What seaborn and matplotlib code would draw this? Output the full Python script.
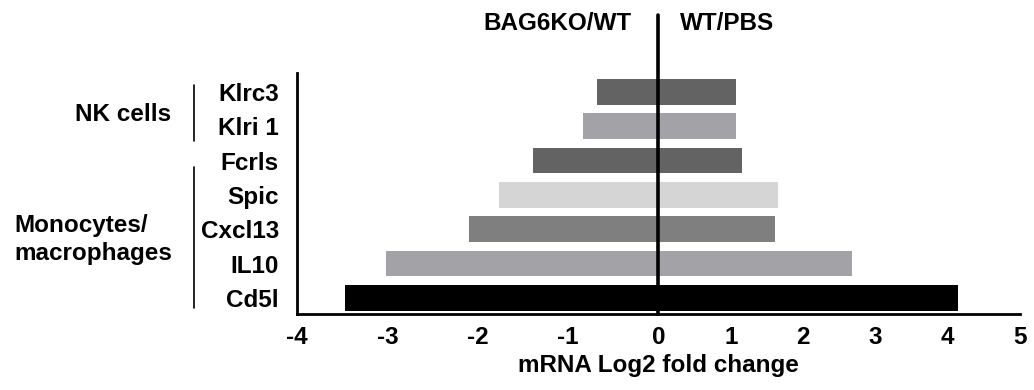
import numpy as np
import pandas as pd
import matplotlib
matplotlib.use("Agg")
import matplotlib.pyplot as plt
import matplotlib.transforms as mtransforms
import seaborn as sns

genes = ["Klrc3", "Klri 1", "Fcrls", "Spic", "Cxcl13", "IL10", "Cd5l"]
bag6ko_wt = [-0.68, -0.83, -1.39, -1.76, -2.10, -3.02, -3.47]
wt_pbs = [1.08, 1.08, 1.15, 1.65, 1.61, 2.68, 4.14]
bar_colors = ["#636363", "#a3a3a7", "#636363", "#d5d5d5", "#7f7f7f", "#a3a3a7", "#000000"]
x_ticks = [-4, -3, -2, -1, 0, 1, 2, 3, 4, 5]
group_names = ["NK cells", "Monocytes/\nmacrophages"]
group_members = [["Klrc3", "Klri 1"], ["Fcrls", "Spic", "Cxcl13", "IL10", "Cd5l"]]
headers = ["BAG6KO/WT", "WT/PBS"]
xlabel = "mRNA Log2 fold change"

sns.set_theme(style="white")
plt.rcParams["font.family"] = ["Liberation Sans", "DejaVu Sans"]
plt.rcParams["font.weight"] = "bold"
plt.rcParams["text.color"] = "black"
plt.rcParams["axes.labelcolor"] = "black"
plt.rcParams["xtick.color"] = "black"
plt.rcParams["ytick.color"] = "black"

FS = 17.5

fig = plt.figure(figsize=(10.34, 3.90), dpi=100)
ax = fig.add_axes([297 / 1034, 76 / 390, 723 / 1034, 241 / 390])

df = pd.DataFrame({"gene": genes, "left": bag6ko_wt, "right": wt_pbs})
for col in ["left", "right"]:
    sns.barplot(data=df, x=col, y="gene", hue="gene", palette=bar_colors,
                legend=False, orient="h", width=0.75, saturation=1,
                linewidth=0, ax=ax)

neg_scale = 90.25 / 72.25
def fwd(x):
    x = np.asarray(x, dtype=float)
    return np.where(x < 0, x * neg_scale, x)
def inv(y):
    y = np.asarray(y, dtype=float)
    return np.where(y < 0, y / neg_scale, y)
ax.set_xscale("function", functions=(fwd, inv))
ax.set_xlim(-4, 5)
ax.set_xticks(x_ticks)
ax.set_xticklabels([str(t) for t in x_ticks], fontsize=FS, fontweight="bold")
ax.set_ylim(6.47, -0.55)
ax.set_yticks(range(len(genes)))
ax.set_yticklabels(genes, fontsize=FS, fontweight="bold")
ax.set_xlabel(xlabel, fontsize=FS, fontweight="bold", labelpad=3)
ax.set_ylabel("")

for s in ["top", "right"]:
    ax.spines[s].set_visible(False)
for s in ["left", "bottom"]:
    ax.spines[s].set_linewidth(2.0)
    ax.spines[s].set_color("black")
ax.tick_params(axis="both", which="both", direction="out", length=5, width=1.6,
               color="black", labelcolor="black")
ax.tick_params(axis="y", pad=8)
ax.tick_params(axis="x", pad=4)

# zero line extending above the axes
ax.axvline(0, ymin=0, ymax=1.241, color="black", lw=2.6, clip_on=False, zorder=5)

# headers
ax.text(-0.3, 1.205, headers[0], transform=ax.get_xaxis_transform(),
        ha="right", va="center", fontsize=FS, fontweight="bold")
ax.text(0.3, 1.205, headers[1], transform=ax.get_xaxis_transform(),
        ha="left", va="center", fontsize=FS, fontweight="bold")

# group brackets
ytr = ax.get_yaxis_transform()
fig_y = mtransforms.blended_transform_factory(fig.transFigure, ax.transData)
bx = (194 - 297) / 723
for name, members in zip(group_names, group_members):
    idx = [genes.index(m) for m in members]
    y0, y1 = min(idx), max(idx)
    if len(idx) == 2:
        top, bot = y0 - 0.2, y1 + 0.44
    else:
        top, bot = y0 + 0.2, y1 + 0.3
    ax.plot([bx, bx], [top, bot], transform=ytr, color="black", lw=1.2, clip_on=False)
    mid = (y0 + y1) / 2
    if "\n" in name:
        ax.text(14 / 1034, mid + 0.3, name, transform=fig_y,
                ha="left", va="center", fontsize=FS, fontweight="bold", linespacing=1.25)
    else:
        ax.text(bx - 23 / 723, mid + 0.15, name, transform=ytr,
                ha="right", va="center", fontsize=FS, fontweight="bold")

fig.savefig("out.png", dpi=100)
